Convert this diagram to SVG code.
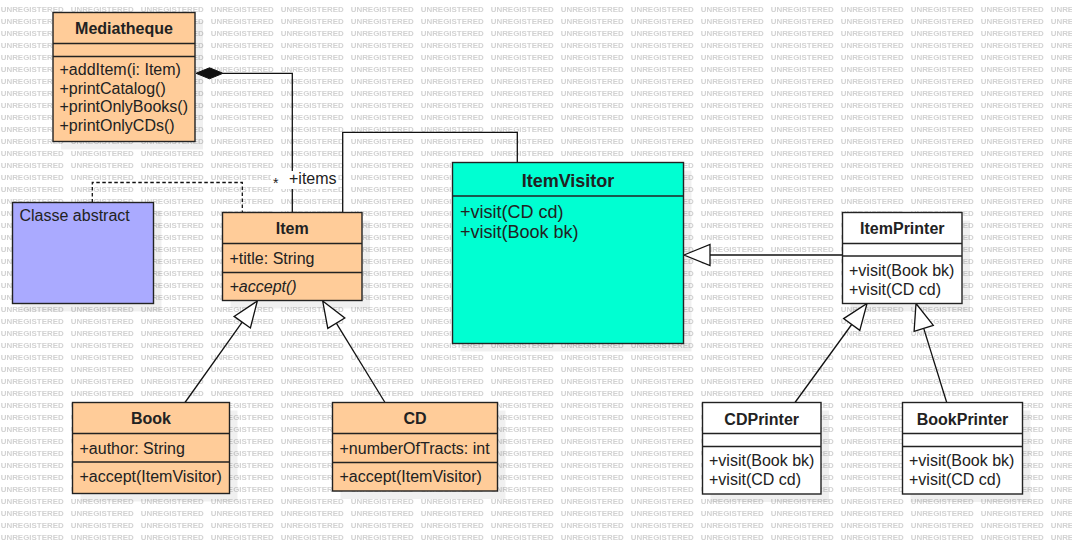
<svg xmlns="http://www.w3.org/2000/svg" width="1072" height="543" viewBox="0 0 1072 543">
<defs>
<pattern id="wm" patternUnits="userSpaceOnUse" x="0" y="0" width="70" height="12">
<text x="0.7" y="11.9" font-family="Liberation Sans, Arial, sans-serif" font-size="8" font-weight="bold" fill="#d2d2d2" textLength="63" lengthAdjust="spacingAndGlyphs">UNREGISTERED</text>
</pattern>
<style>
.box{stroke:#222;stroke-width:1.4}
.orange{fill:#ffcc99}
.white{fill:#ffffff}
.cyan{fill:#00ffd2}
.blue{fill:#aaaaff}
.sh{fill:#000;fill-opacity:0.06}
.div{stroke:#222;stroke-width:1.4;fill:none}
.t{font-family:"Liberation Sans",Arial,sans-serif;font-size:16px;fill:#222}
.b{font-weight:bold;text-anchor:middle}
.i{font-style:italic}
.big{font-size:18px}
.ln{stroke:#111;stroke-width:1.3;fill:none}
.dash{stroke-dasharray:3.5 2.5}
.hollow{fill:#fff;stroke:#111;stroke-width:1.3}
</style>
</defs>
<rect x="0" y="0" width="1072" height="543" fill="#ffffff"/>
<rect x="0" y="0" width="1072" height="543" fill="url(#wm)"/>

<g id="shadows">
<rect class="sh" x="61" y="20.5" width="142" height="129"/>
<rect class="sh" x="20.5" y="210.5" width="141" height="101"/>
<rect class="sh" x="230.5" y="220.5" width="139.5" height="88"/>
<rect class="sh" x="460.5" y="170.5" width="231" height="181"/>
<rect class="sh" x="850.5" y="220.5" width="119.5" height="91"/>
<rect class="sh" x="80.5" y="410.5" width="157" height="91"/>
<rect class="sh" x="340.5" y="410.5" width="165" height="88.5"/>
<rect class="sh" x="710.5" y="410.5" width="118.5" height="91.5"/>
<rect class="sh" x="910.5" y="410.5" width="120" height="91.5"/>
</g>

<g id="connectors">
<!-- composition Mediatheque - Item -->
<polyline class="ln" points="223,73.3 292.3,73.3 292.3,212.5"/>
<polygon points="196,73.3 209.5,67.8 223,73.3 209.5,78.8" fill="#111" stroke="#111" stroke-width="1"/>
<!-- dashed note link -->
<polyline class="ln dash" points="92.3,202.5 92.3,182.5 242.3,182.5 242.3,212.5"/>
<!-- Item - ItemVisitor association -->
<polyline class="ln" points="342.7,212.5 342.7,132.3 517.3,132.3 517.3,162.5"/>
<!-- Book -> Item -->
<line class="ln" x1="185" y1="402.5" x2="242.2" y2="322.2"/>
<polygon class="hollow" points="257.3,301 250.4,328 234.1,316.4"/>
<!-- CD -> Item -->
<line class="ln" x1="385" y1="402.5" x2="336.3" y2="323.2"/>
<polygon class="hollow" points="322.7,301 344.8,318 327.8,328.4"/>
<!-- ItemPrinter -> ItemVisitor -->
<line class="ln" x1="842.5" y1="255" x2="710" y2="255"/>
<polygon class="hollow" points="684,255 710,244.5 710,265.5"/>
<!-- CDPrinter -> ItemPrinter -->
<line class="ln" x1="795" y1="402.5" x2="851.7" y2="324.5"/>
<polygon class="hollow" points="867,303.5 859.8,330.4 843.6,318.6"/>
<!-- BookPrinter -> ItemPrinter -->
<line class="ln" x1="946.7" y1="402.5" x2="923.7" y2="328.4"/>
<polygon class="hollow" points="916,303.5 933.3,325.4 914.1,331.4"/>
<!-- role labels -->
<rect x="271" y="171" width="67" height="18" fill="#ffffff"/>
<text class="t" x="273" y="188" style="font-size:14px">*</text>
<text class="t" x="289" y="184.3">+items</text>
</g>

<g id="Mediatheque">
<rect class="box orange" x="53" y="12.5" width="142" height="129"/>
<line class="div" x1="53" y1="43.5" x2="195" y2="43.5"/>
<line class="div" x1="53" y1="56.5" x2="195" y2="56.5"/>
<text class="t b" x="124" y="34">Mediatheque</text>
<text class="t" x="59.5" y="75">+addItem(i: Item)</text>
<text class="t" x="59.5" y="93.7">+printCatalog()</text>
<text class="t" x="59.5" y="112.4">+printOnlyBooks()</text>
<text class="t" x="59.5" y="131">+printOnlyCDs()</text>
</g>

<g id="ClasseAbstract">
<rect class="box blue" x="12.5" y="202.5" width="141" height="101"/>
<text class="t" x="19.5" y="221">Classe abstract</text>
</g>

<g id="Item">
<rect class="box orange" x="222.5" y="212.5" width="139.5" height="88"/>
<line class="div" x1="222.5" y1="243.5" x2="362" y2="243.5"/>
<line class="div" x1="222.5" y1="272.5" x2="362" y2="272.5"/>
<text class="t b" x="292.3" y="234">Item</text>
<text class="t" x="229.5" y="263.5">+title: String</text>
<text class="t i" x="229.5" y="292">+accept()</text>
</g>

<g id="ItemVisitor">
<rect class="box cyan" x="452.5" y="162.5" width="231" height="181"/>
<line class="div" x1="452.5" y1="196" x2="683.5" y2="196"/>
<text class="t b big" x="568" y="186.5">ItemVisitor</text>
<text class="t big" x="460" y="218">+visit(CD cd)</text>
<text class="t big" x="460" y="238">+visit(Book bk)</text>
</g>

<g id="ItemPrinter">
<rect class="box white" x="842.5" y="212.5" width="119.5" height="91"/>
<line class="div" x1="842.5" y1="243.5" x2="962" y2="243.5"/>
<line class="div" x1="842.5" y1="256" x2="962" y2="256"/>
<text class="t b" x="902.3" y="234">ItemPrinter</text>
<text class="t" x="849" y="276">+visit(Book bk)</text>
<text class="t" x="849" y="294.5">+visit(CD cd)</text>
</g>

<g id="Book">
<rect class="box orange" x="72.5" y="402.5" width="157" height="91"/>
<line class="div" x1="72.5" y1="433.5" x2="229.5" y2="433.5"/>
<line class="div" x1="72.5" y1="462" x2="229.5" y2="462"/>
<text class="t b" x="151" y="424">Book</text>
<text class="t" x="79.5" y="454">+author: String</text>
<text class="t" x="79.5" y="482">+accept(ItemVisitor)</text>
</g>

<g id="CD">
<rect class="box orange" x="332.5" y="402.5" width="165" height="88.5"/>
<line class="div" x1="332.5" y1="433.5" x2="497.5" y2="433.5"/>
<line class="div" x1="332.5" y1="462.5" x2="497.5" y2="462.5"/>
<text class="t b" x="415" y="424">CD</text>
<text class="t" x="339.5" y="454">+numberOfTracts: int</text>
<text class="t" x="339.5" y="482">+accept(ItemVisitor)</text>
</g>

<g id="CDPrinter">
<rect class="box white" x="702.5" y="402.5" width="118.5" height="91.5"/>
<line class="div" x1="702.5" y1="433.5" x2="821" y2="433.5"/>
<line class="div" x1="702.5" y1="446.5" x2="821" y2="446.5"/>
<text class="t b" x="761.7" y="424.5">CDPrinter</text>
<text class="t" x="709" y="466">+visit(Book bk)</text>
<text class="t" x="709" y="484.5">+visit(CD cd)</text>
</g>

<g id="BookPrinter">
<rect class="box white" x="902.5" y="402.5" width="120" height="91.5"/>
<line class="div" x1="902.5" y1="433.5" x2="1022.5" y2="433.5"/>
<line class="div" x1="902.5" y1="446.5" x2="1022.5" y2="446.5"/>
<text class="t b" x="962.5" y="424.5">BookPrinter</text>
<text class="t" x="909" y="466">+visit(Book bk)</text>
<text class="t" x="909" y="484.5">+visit(CD cd)</text>
</g>
</svg>
